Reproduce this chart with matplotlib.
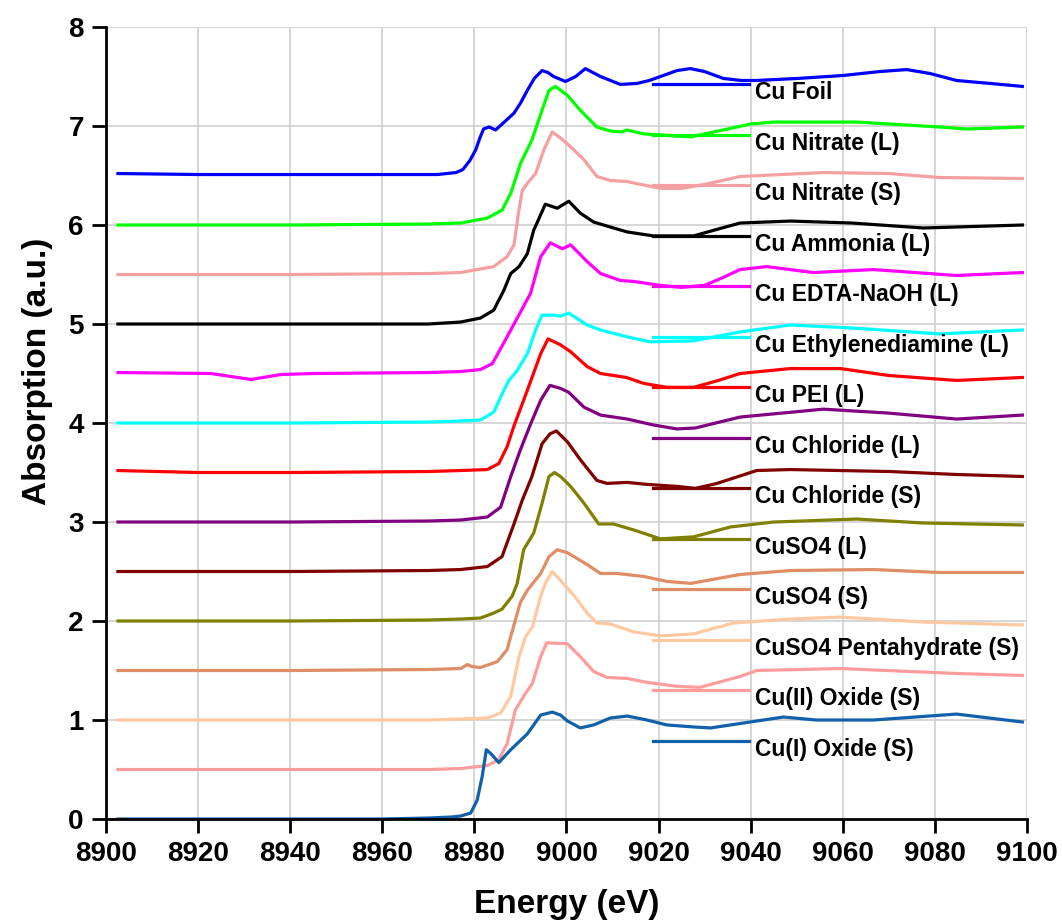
import sys
import matplotlib
matplotlib.use('Agg')
import matplotlib.pyplot as plt
from matplotlib.transforms import ScaledTranslation

# spectra (energy in eV, stacked absorption in a.u.)
foil_e = [8902.6, 8920, 8940, 8960, 8972, 8976, 8977.5, 8979, 8980.3, 8981.2, 8982, 8983.2, 8984.6, 8986.5, 8988.6, 8990, 8991.5, 8993, 8994.7, 8996, 8997.2, 8999.8, 9002, 9004.1, 9007.4, 9011.7, 9015.3, 9018, 9020.4, 9024, 9026.9, 9030, 9034.1, 9038, 9041.3, 9050, 9060, 9068, 9073.9, 9079, 9084.7, 9092, 9099]
foil_mu = [6.52, 6.51, 6.51, 6.51, 6.51, 6.53, 6.56, 6.65, 6.76, 6.88, 6.97, 6.99, 6.96, 7.04, 7.13, 7.23, 7.36, 7.48, 7.56, 7.54, 7.50, 7.45, 7.50, 7.58, 7.50, 7.42, 7.43, 7.46, 7.50, 7.56, 7.58, 7.55, 7.48, 7.46, 7.46, 7.48, 7.51, 7.55, 7.57, 7.53, 7.46, 7.43, 7.40]

nitl_e = [8902.6, 8940, 8970, 8977, 8982.8, 8986, 8987.9, 8990, 8992.5, 8994.7, 8996.2, 8997.6, 9000.2, 9003, 9006.6, 9009.5, 9012, 9013.1, 9016.8, 9020.4, 9027, 9034, 9040, 9045, 9063, 9081, 9087, 9099]
nitl_mu = [6.00, 6.00, 6.01, 6.02, 6.07, 6.15, 6.32, 6.62, 6.86, 7.16, 7.36, 7.40, 7.31, 7.16, 6.99, 6.95, 6.94, 6.96, 6.92, 6.91, 6.89, 6.96, 7.02, 7.04, 7.04, 6.99, 6.97, 6.99]

nits_e = [8902.6, 8940, 8970, 8977, 8984.2, 8987.1, 8988.6, 8989.5, 8990.4, 8991.5, 8993.3, 8995.1, 8996.9, 8998.7, 9000.9, 9003.8, 9006.6, 9009.5, 9013, 9020.4, 9025, 9030, 9037.7, 9055.8, 9070, 9081, 9099]
nits_mu = [5.50, 5.50, 5.51, 5.52, 5.58, 5.68, 5.80, 6.10, 6.35, 6.42, 6.52, 6.76, 6.94, 6.88, 6.79, 6.66, 6.49, 6.45, 6.44, 6.37, 6.37, 6.41, 6.49, 6.53, 6.52, 6.48, 6.47]

amm_e = [8902.6, 8940, 8970, 8977, 8981.3, 8984.2, 8986.4, 8987.9, 8989.7, 8991.5, 8992.9, 8993.6, 8995.4, 8998, 9000.5, 9003, 9005.9, 9009.5, 9013.2, 9018.9, 9027.6, 9033, 9037.7, 9048.6, 9062, 9077.5, 9099]
amm_mu = [5.00, 5.00, 5.00, 5.02, 5.06, 5.14, 5.34, 5.51, 5.58, 5.71, 5.95, 6.02, 6.21, 6.17, 6.24, 6.12, 6.03, 5.98, 5.93, 5.89, 5.89, 5.96, 6.02, 6.04, 6.02, 5.97, 6.00]

edta_e = [8902.6, 8922.8, 8931.5, 8938, 8945, 8970, 8977, 8981.3, 8983.9, 8987.1, 8990, 8992.2, 8994.4, 8996.5, 8999.1, 9000.9, 9004.5, 9007.4, 9011.7, 9014.6, 9020.4, 9025, 9030, 9034, 9037.7, 9043.5, 9053.6, 9066.7, 9084.7, 9099]
edta_mu = [4.51, 4.50, 4.44, 4.49, 4.50, 4.51, 4.52, 4.54, 4.60, 4.87, 5.12, 5.31, 5.68, 5.82, 5.76, 5.80, 5.63, 5.51, 5.44, 5.43, 5.39, 5.37, 5.39, 5.47, 5.55, 5.58, 5.52, 5.55, 5.49, 5.52]

en_e = [8902.6, 8940, 8970, 8977, 8981.3, 8984.2, 8986.4, 8987.5, 8989.3, 8991.5, 8993.3, 8994.7, 8997.2, 8998.7, 9000.5, 9004.5, 9007.4, 9013.2, 9018.2, 9027.6, 9037.7, 9048.6, 9062, 9081, 9099]
en_mu = [4.00, 4.00, 4.01, 4.02, 4.03, 4.11, 4.33, 4.43, 4.53, 4.70, 4.94, 5.09, 5.09, 5.08, 5.11, 4.99, 4.94, 4.87, 4.82, 4.83, 4.92, 4.99, 4.96, 4.90, 4.94]

pei_e = [8902.6, 8920, 8940, 8970, 8977, 8982.8, 8985.3, 8987.1, 8988.6, 8991.5, 8994.4, 8996, 8998.7, 9000.9, 9004.5, 9007.4, 9013, 9016.8, 9021.8, 9027.6, 9033, 9037.7, 9048.6, 9059.5, 9070, 9084.7, 9099]
pei_mu = [3.52, 3.50, 3.50, 3.51, 3.52, 3.53, 3.59, 3.76, 3.97, 4.33, 4.70, 4.85, 4.79, 4.72, 4.57, 4.50, 4.46, 4.40, 4.36, 4.36, 4.43, 4.50, 4.55, 4.55, 4.48, 4.43, 4.46]

cll_e = [8902.6, 8940, 8970, 8977, 8982.8, 8985.7, 8987.9, 8990, 8992.3, 8994.4, 8996.4, 8998.7, 9000.5, 9003.8, 9007.4, 9013.2, 9018.9, 9024, 9028, 9037.7, 9055.8, 9070, 9084.7, 9099]
cll_mu = [3.00, 3.00, 3.01, 3.02, 3.05, 3.15, 3.46, 3.73, 4.00, 4.23, 4.38, 4.35, 4.31, 4.16, 4.08, 4.04, 3.98, 3.94, 3.95, 4.06, 4.14, 4.10, 4.04, 4.08]

cls_e = [8902.6, 8940, 8970, 8977, 8982.8, 8986, 8988.6, 8990.4, 8992.5, 8994.7, 8996.4, 8997.8, 9000.2, 9003, 9006.6, 9008.8, 9013.2, 9017.5, 9024, 9028, 9032.7, 9041.3, 9048.6, 9070.3, 9084.7, 9099]
cls_mu = [2.50, 2.50, 2.51, 2.52, 2.55, 2.65, 2.98, 3.22, 3.46, 3.79, 3.89, 3.92, 3.81, 3.63, 3.42, 3.39, 3.40, 3.38, 3.36, 3.34, 3.39, 3.52, 3.53, 3.51, 3.48, 3.46]

sol_e = [8902.6, 8940, 8970, 8977, 8981.3, 8984.2, 8986, 8988.2, 8989.3, 8990.7, 8992.9, 8994.7, 8996.2, 8997.4, 8998.7, 9000.9, 9003.8, 9007, 9010.2, 9014.6, 9020.4, 9027.6, 9035.6, 9045, 9063, 9077.5, 9099]
sol_mu = [2.00, 2.00, 2.01, 2.02, 2.03, 2.08, 2.12, 2.25, 2.38, 2.72, 2.89, 3.19, 3.46, 3.50, 3.46, 3.36, 3.19, 2.98, 2.98, 2.92, 2.83, 2.85, 2.95, 3.00, 3.03, 2.99, 2.97]

sos_e = [8902.6, 8940, 8970, 8977, 8978.5, 8979.5, 8981.3, 8985, 8987.1, 8988.9, 8990, 8991.5, 8994.4, 8996.2, 8998, 9000.2, 9004.5, 9007.4, 9011, 9016.8, 9021.8, 9027, 9037.7, 9048.6, 9066.7, 9081, 9099]
sos_mu = [1.50, 1.50, 1.51, 1.52, 1.56, 1.54, 1.53, 1.59, 1.71, 2.01, 2.19, 2.31, 2.48, 2.65, 2.72, 2.69, 2.57, 2.48, 2.48, 2.45, 2.40, 2.38, 2.47, 2.51, 2.52, 2.49, 2.49]

pen_e = [8902.6, 8940, 8970, 8977, 8982.8, 8985.7, 8987.9, 8989.7, 8991.1, 8992.6, 8994.4, 8995.4, 8996.9, 8998.7, 9001.6, 9004.5, 9006.6, 9009.5, 9014.6, 9020.4, 9027.6, 9036.3, 9048.6, 9059.5, 9077.5, 9099]
pen_mu = [1.00, 1.00, 1.00, 1.01, 1.02, 1.07, 1.24, 1.64, 1.84, 1.94, 2.25, 2.38, 2.50, 2.41, 2.26, 2.08, 1.98, 1.97, 1.89, 1.85, 1.87, 1.98, 2.02, 2.04, 1.99, 1.96]

cuo_e = [8902.6, 8940, 8970, 8977, 8982.8, 8985.3, 8987.1, 8988.9, 8990.7, 8992.6, 8994.4, 8995.7, 9000.2, 9003, 9005.9, 9008.8, 9013.2, 9017.5, 9024, 9029, 9037.7, 9041.3, 9059.5, 9084.7, 9099]
cuo_mu = [0.50, 0.50, 0.50, 0.51, 0.54, 0.60, 0.76, 1.10, 1.24, 1.37, 1.64, 1.78, 1.77, 1.64, 1.49, 1.43, 1.42, 1.38, 1.34, 1.33, 1.44, 1.50, 1.52, 1.47, 1.45]

cu2o_e = [8902.6, 8940, 8960, 8970, 8975, 8977, 8979.2, 8980.6, 8981.7, 8982.6, 8983.8, 8985.3, 8987.9, 8991.5, 8994.4, 8996.9, 8998.7, 9000.2, 9003, 9005.9, 9009.5, 9013.2, 9017.5, 9021.8, 9027.6, 9031.3, 9039.9, 9047.1, 9054.3, 9066.7, 9084.7, 9099]
cu2o_mu = [0.00, 0.00, 0.00, 0.01, 0.02, 0.03, 0.06, 0.19, 0.43, 0.70, 0.65, 0.57, 0.70, 0.86, 1.05, 1.08, 1.05, 0.99, 0.92, 0.95, 1.02, 1.04, 1.00, 0.95, 0.93, 0.92, 0.98, 1.03, 1.00, 1.00, 1.06, 0.98]

labels = ['Cu Foil', 'Cu Nitrate (L)', 'Cu Nitrate (S)', 'Cu Ammonia (L)',
          'Cu EDTA-NaOH (L)', 'Cu Ethylenediamine (L)', 'Cu PEI (L)',
          'Cu Chloride (L)', 'Cu Chloride (S)', 'CuSO4 (L)', 'CuSO4 (S)',
          'CuSO4 Pentahydrate (S)', 'Cu(II) Oxide (S)', 'Cu(I) Oxide (S)']
colors = ['#0000FF', '#00FF00', '#F5A0A0', '#000000', '#FF00FF', '#00FFFF',
          '#FF0000', '#800080', '#800000', '#808000', '#E08C64', '#FFC8A0',
          '#FF9C9C', '#1060AA']


def main():
    plt.rcParams['font.family'] = ['Liberation Sans', 'DejaVu Sans']
    plt.rcParams['font.weight'] = 'bold'

    series = [(foil_e, foil_mu), (nitl_e, nitl_mu), (nits_e, nits_mu),
              (amm_e, amm_mu), (edta_e, edta_mu), (en_e, en_mu),
              (pei_e, pei_mu), (cll_e, cll_mu), (cls_e, cls_mu),
              (sol_e, sol_mu), (sos_e, sos_mu), (pen_e, pen_mu),
              (cuo_e, cuo_mu), (cu2o_e, cu2o_mu)]

    fig = plt.figure(figsize=(10.62, 9.22), dpi=100)
    ax = fig.add_axes([0.0998, 0.1117, 0.8672, 0.859])

    for (e, mu), lab, col in zip(series, labels, colors):
        ax.plot(e, mu, color=col, lw=2.3, label=lab, solid_joinstyle='round')

    ax.set_xlim(8900, 9100)
    ax.set_ylim(0, 8)
    ax.set_xticks(range(8900, 9101, 20))
    ax.set_yticks(range(0, 9))
    ax.grid(True, color='#D0D0D0', lw=1.2)
    ax.set_axisbelow(True)
    for side in ['top', 'right']:
        ax.spines[side].set_visible(False)
    for side in ['left', 'bottom']:
        ax.spines[side].set_linewidth(2)
    ax.tick_params(direction='out', length=10, width=2, labelsize=20, pad=6)
    for lbl in ax.get_xticklabels() + ax.get_yticklabels():
        lbl.set_fontweight('bold')

    ax.set_xlabel('Energy (eV)', fontsize=24, fontweight='bold', labelpad=16)
    ax.set_ylabel('Absorption (a.u.)', fontsize=24, fontweight='bold')
    ax.yaxis.set_label_coords(-0.058, 0.565)

    leg = ax.legend(loc='upper left', bbox_to_anchor=(0.594, 0.9405),
                    frameon=False, borderpad=0, borderaxespad=0,
                    handlelength=4.2, handletextpad=0.27, labelspacing=1.2,
                    prop={'size': 16.5, 'weight': 'bold'})
    for line in leg.get_lines():
        line.set_linewidth(2.3)
    # labels sit a little below their handle lines, as in the original
    shift = ScaledTranslation(0, -5 / 72, fig.dpi_scale_trans)
    for t in leg.get_texts():
        t.set_transform(t.get_transform() + shift)

    fig.savefig('out.png', dpi=100)


if __name__ == '__main__':
    sys.exit(main())
